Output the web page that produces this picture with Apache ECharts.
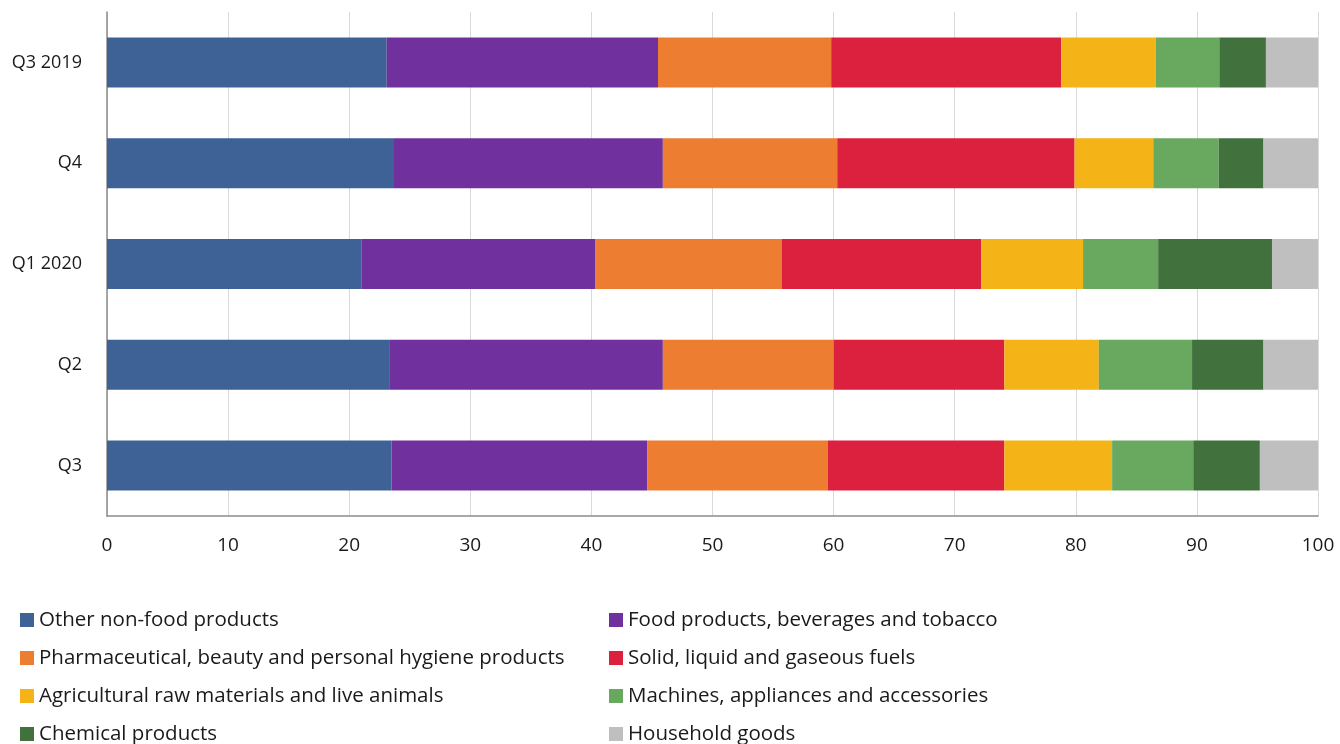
<!DOCTYPE html>
<html>
<head>
<meta charset="utf-8">
<script src="https://cdn.jsdelivr.net/npm/echarts@6/dist/echarts.min.js"></script>
<style>
html,body{margin:0;padding:0;background:#fff;}
#chart{width:1340px;height:744px;}
</style>
</head>
<body>
<div id="chart"></div>
<script>
const categories = ['Q3 2019', 'Q4', 'Q1 2020', 'Q2', 'Q3'];
const seriesNames = [
  'Other non-food products',
  'Food products, beverages and tobacco',
  'Pharmaceutical, beauty and personal hygiene products',
  'Solid, liquid and gaseous fuels',
  'Agricultural raw materials and live animals',
  'Machines, appliances and accessories',
  'Chemical products',
  'Household goods'
];
const otherNonFood   = [23.1, 23.7, 21.0, 23.3, 23.5];
const foodBeverages  = [22.4, 22.2, 19.3, 22.6, 21.1];
const pharmaceutical = [14.3, 14.4, 15.4, 14.1, 14.9];
const fuels          = [19.0, 19.6, 16.5, 14.1, 14.6];
const agricultural   = [7.8, 6.5, 8.4, 7.8, 8.9];
const machines       = [5.25, 5.4, 6.2, 7.7, 6.7];
const chemical       = [3.85, 3.7, 9.4, 5.9, 5.5];
const household      = [4.3, 4.5, 3.8, 4.5, 4.8];
const xTicks = [0, 10, 20, 30, 40, 50, 60, 70, 80, 90, 100];

const colors = ['#3E6296', '#70309E', '#ED7D31', '#DC213E', '#F4B316', '#69A85F', '#41713C', '#BFBFBF'];
const values = [otherNonFood, foodBeverages, pharmaceutical, fuels, agricultural, machines, chemical, household];

const chart = echarts.init(document.getElementById('chart'), null, {renderer: 'canvas'});
const font = '"Open Sans", "Noto Sans", sans-serif';

const legendCommon = {
  orient: 'vertical',
  top: 609,
  height: 200,
  padding: 0,
  itemWidth: 14,
  itemHeight: 14,
  itemGap: 16,
  icon: 'rect',
  textStyle: {fontFamily: font, fontSize: 20.5, color: '#1a1a1a', lineHeight: 22}
};

chart.setOption({
  animation: false,
  color: colors,
  grid: {left: 107, right: 22, top: 12, bottom: 228, containLabel: false},
  legend: [
    Object.assign({}, legendCommon, {left: 20, data: [seriesNames[0], seriesNames[2], seriesNames[4], seriesNames[6]]}),
    Object.assign({}, legendCommon, {left: 609, data: [seriesNames[1], seriesNames[3], seriesNames[5], seriesNames[7]]})
  ],
  xAxis: {
    type: 'value',
    min: xTicks[0],
    max: xTicks[xTicks.length - 1],
    interval: 10,
    axisLine: {show: true, lineStyle: {color: '#8c8c8c', width: 1.5}},
    axisTick: {show: false},
    splitLine: {show: true, lineStyle: {color: '#d9d9d9', width: 1}},
    axisLabel: {fontFamily: font, fontSize: 19, color: '#1a1a1a', margin: 20}
  },
  yAxis: {
    type: 'category',
    inverse: true,
    data: categories,
    axisLine: {show: true, lineStyle: {color: '#8c8c8c', width: 1.5}},
    axisTick: {show: false},
    axisLabel: {fontFamily: font, fontSize: 18, color: '#1a1a1a', margin: 25}
  },
  series: seriesNames.map((name, i) => ({
    name: name,
    type: 'bar',
    stack: 'total',
    barWidth: 50,
    data: values[i],
    itemStyle: {color: colors[i]}
  }))
});
</script>
</body>
</html>
